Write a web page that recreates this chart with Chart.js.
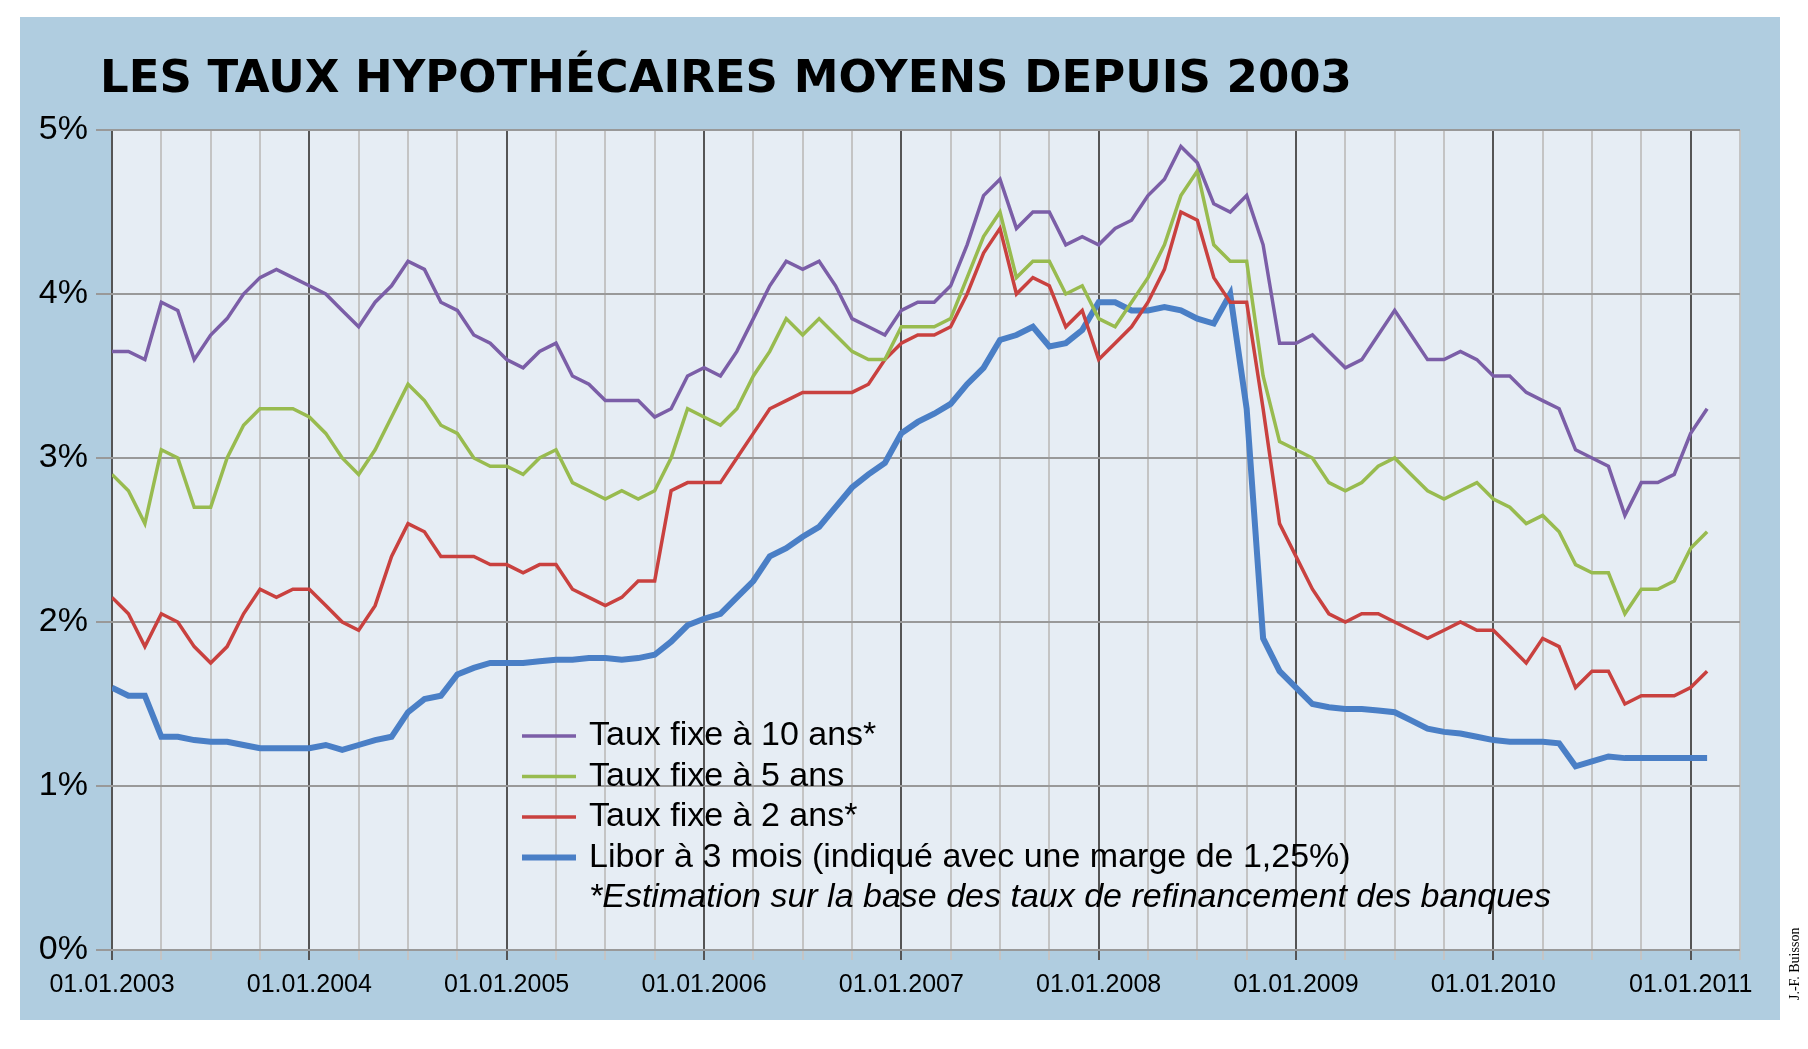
<!DOCTYPE html>
<html>
<head>
<meta charset="utf-8">
<script src="https://cdn.jsdelivr.net/npm/chart.js@4"></script>
<style>
body { margin: 0; background: #fff; }
#wrap { width: 1808px; height: 1049px; }
</style>
</head>
<body>
<div id="wrap"><canvas id="c" width="1808" height="1049"></canvas></div>
<script>
// monthly values from 01.2003 (month index 0)
const years = ['2003','2004','2005','2006','2007','2008','2009','2010','2011']
const yTicks = [0, 1, 2, 3, 4, 5]

const fixe10 = [
  3.65,3.65,3.6,3.95,3.9,3.6,3.75,3.85,4.0,4.1,4.15,4.1,
  4.05,4.0,3.9,3.8,3.95,4.05,4.2,4.15,3.95,3.9,3.75,3.7,
  3.6,3.55,3.65,3.7,3.5,3.45,3.35,3.35,3.35,3.25,3.3,3.5,
  3.55,3.5,3.65,3.85,4.05,4.2,4.15,4.2,4.05,3.85,3.8,3.75,
  3.9,3.95,3.95,4.05,4.3,4.6,4.7,4.4,4.5,4.5,4.3,4.35,
  4.3,4.4,4.45,4.6,4.7,4.9,4.8,4.55,4.5,4.6,4.3,3.7,
  3.7,3.75,3.65,3.55,3.6,3.75,3.9,3.75,3.6,3.6,3.65,3.6,
  3.5,3.5,3.4,3.35,3.3,3.05,3.0,2.95,2.65,2.85,2.85,2.9,
  3.15,3.3
]
const fixe5 = [
  2.9,2.8,2.6,3.05,3.0,2.7,2.7,3.0,3.2,3.3,3.3,3.3,
  3.25,3.15,3.0,2.9,3.05,3.25,3.45,3.35,3.2,3.15,3.0,2.95,
  2.95,2.9,3.0,3.05,2.85,2.8,2.75,2.8,2.75,2.8,3.0,3.3,
  3.25,3.2,3.3,3.5,3.65,3.85,3.75,3.85,3.75,3.65,3.6,3.6,
  3.8,3.8,3.8,3.85,4.1,4.35,4.5,4.1,4.2,4.2,4.0,4.05,
  3.85,3.8,3.95,4.1,4.3,4.6,4.75,4.3,4.2,4.2,3.5,3.1,
  3.05,3.0,2.85,2.8,2.85,2.95,3.0,2.9,2.8,2.75,2.8,2.85,
  2.75,2.7,2.6,2.65,2.55,2.35,2.3,2.3,2.05,2.2,2.2,2.25,
  2.45,2.55
]
const fixe2 = [
  2.15,2.05,1.85,2.05,2.0,1.85,1.75,1.85,2.05,2.2,2.15,2.2,
  2.2,2.1,2.0,1.95,2.1,2.4,2.6,2.55,2.4,2.4,2.4,2.35,
  2.35,2.3,2.35,2.35,2.2,2.15,2.1,2.15,2.25,2.25,2.8,2.85,
  2.85,2.85,3.0,3.15,3.3,3.35,3.4,3.4,3.4,3.4,3.45,3.6,
  3.7,3.75,3.75,3.8,4.0,4.25,4.4,4.0,4.1,4.05,3.8,3.9,
  3.6,3.7,3.8,3.95,4.15,4.5,4.45,4.1,3.95,3.95,3.3,2.6,
  2.4,2.2,2.05,2.0,2.05,2.05,2.0,1.95,1.9,1.95,2.0,1.95,
  1.95,1.85,1.75,1.9,1.85,1.6,1.7,1.7,1.5,1.55,1.55,1.55,
  1.6,1.7
]
const libor = [
  1.6,1.55,1.55,1.3,1.3,1.28,1.27,1.27,1.25,1.23,1.23,1.23,
  1.23,1.25,1.22,1.25,1.28,1.3,1.45,1.53,1.55,1.68,1.72,1.75,
  1.75,1.75,1.76,1.77,1.77,1.78,1.78,1.77,1.78,1.8,1.88,1.98,
  2.02,2.05,2.15,2.25,2.4,2.45,2.52,2.58,2.7,2.82,2.9,2.97,
  3.15,3.22,3.27,3.33,3.45,3.55,3.72,3.75,3.8,3.68,3.7,3.78,
  3.95,3.95,3.9,3.9,3.92,3.9,3.85,3.82,4.0,3.3,1.9,1.7,
  1.6,1.5,1.48,1.47,1.47,1.46,1.45,1.4,1.35,1.33,1.32,1.3,
  1.28,1.27,1.27,1.27,1.26,1.12,1.15,1.18,1.17,1.17,1.17,1.17,
  1.17,1.17
]

const series = [
  {label: 'Taux fixe à 10 ans*', data: fixe10, color: '#7b5ea7', width: 3.5},
  {label: 'Taux fixe à 5 ans', data: fixe5, color: '#98bb4f', width: 3.5},
  {label: 'Taux fixe à 2 ans*', data: fixe2, color: '#c9413f', width: 3.5},
  {label: 'Libor à 3 mois (indiqué avec une marge de 1,25%)', data: libor, color: '#4a7fc6', width: 6}
]

const datasets = series.map(s => ({
  label: s.label,
  data: s.data.map((v, i) => ({x: i, y: v})),
  borderColor: s.color,
  borderWidth: s.width,
  pointRadius: 0,
  tension: 0,
  fill: false
}))

const frame = {
  id: 'frame',
  beforeDraw(chart) {
    const ctx = chart.ctx, a = chart.chartArea
    ctx.save()
    ctx.fillStyle = '#b0cde0'
    ctx.fillRect(20, 17, 1760, 1003)
    ctx.fillStyle = '#e6edf4'
    ctx.fillRect(a.left, a.top, a.right - a.left, a.bottom - a.top)
    ctx.fillStyle = '#000'
    ctx.font = 'bold 45px "DejaVu Sans", sans-serif'
    ctx.textBaseline = 'alphabetic'
    ctx.fillText('LES TAUX HYPOTHÉCAIRES MOYENS DEPUIS 2003', 100, 92)
    ctx.restore()
  },
  afterDraw(chart) {
    const ctx = chart.ctx
    ctx.save()
    let y = 736
    series.forEach(s => {
      ctx.strokeStyle = s.color
      ctx.lineWidth = s.width
      ctx.beginPath(); ctx.moveTo(522, y); ctx.lineTo(576, y); ctx.stroke()
      ctx.fillStyle = '#000'
      ctx.font = '34px "Liberation Sans", Arial, sans-serif'
      ctx.textBaseline = 'middle'
      ctx.fillText(s.label, 589, y)
      y += 40.5
    })
    ctx.font = 'italic 34px "Liberation Sans", Arial, sans-serif'
    ctx.fillText('*Estimation sur la base des taux de refinancement des banques', 589, y)
    ctx.translate(1795, 1000)
    ctx.rotate(-Math.PI / 2)
    ctx.font = '14px "Liberation Serif", serif'
    ctx.fillText('J.-F. Buisson', 0, 0)
    ctx.restore()
  }
}

new Chart(document.getElementById('c'), {
  type: 'line',
  data: {datasets: datasets},
  plugins: [frame],
  options: {
    responsive: false,
    animation: false,
    layout: {padding: {top: 130, right: 68, left: 0, bottom: 0}},
    plugins: {legend: {display: false}, tooltip: {enabled: false}},
    scales: {
      x: {
        type: 'linear', min: 0, max: 99,
        afterFit: s => { s.height = 99 },
        afterBuildTicks: s => { s.ticks = []; for (let m = 0; m <= 99; m += 3) s.ticks.push({value: m}) },
        grid: {
          color: c => (c.tick && c.tick.value % 12 === 0) ? '#555' : '#c4c4c4',
          lineWidth: 2,
          tickLength: 10, drawTicks: true
        },
        border: {display: false},
        ticks: {
          autoSkip: false, maxRotation: 0, color: '#000', padding: 10,
          font: {size: 25, family: '"Liberation Sans", Arial, sans-serif'},
          callback: v => v % 12 === 0 ? '01.01.' + years[v / 12] : ''
        }
      },
      y: {
        min: 0, max: 5,
        afterFit: s => { s.width = 112 },
        afterBuildTicks: s => { s.ticks = yTicks.map(v => ({value: v})) },
        grid: {color: '#999', lineWidth: 2, tickLength: 16},
        border: {display: false},
        ticks: {
          color: '#000', padding: 8,
          font: {size: 34, family: '"Liberation Sans", Arial, sans-serif'},
          callback: v => v + '%'
        }
      }
    }
  }
})
</script>
</body>
</html>
